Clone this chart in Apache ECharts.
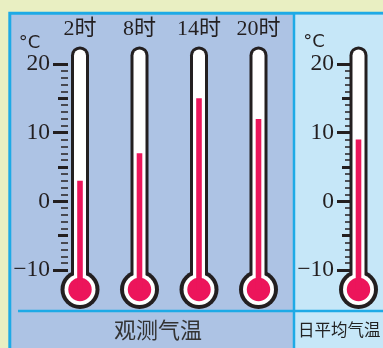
<!DOCTYPE html>
<html><head><meta charset="utf-8">
<script src="https://cdn.jsdelivr.net/npm/echarts@6/dist/echarts.min.js"></script>
<style>html,body{margin:0;padding:0;background:#e9efc2;}#c{width:383px;height:348px;}</style>
</head><body><div id="c"></div>
<script>
// ---- data ----
const hours = ['2时', '8时', '14时', '20时'];
const hourTemps = [3, 7, 15, 12];
const avgCategory = ['日平均气温'];
const avgTemps = [9];
const tempTicks = [-10, 0, 10, 20];
const panelTitles = ['观测气温', '日平均气温'];
const unitLabel = '°C';

// ---- styles ----
const INK = '#231f20';
const RED = '#ec155b';
const BLUE_LINE = '#1eaae6';
const LEFT_BG = '#adc3e4';
const RIGHT_BG = '#c6e7f8';
const SERIF = '"Liberation Serif","DejaVu Serif","Noto Sans CJK SC",serif';
const CJK = '"Noto Sans CJK SC",sans-serif';

const yMin = tempTicks[0], yMax = tempTicks[tempTicks.length - 1];

function fmt(v) { return v < 0 ? '\u2212' + Math.abs(v) : String(v); }

function majorAxis(grid, offset) {
  return {
    type: 'value', gridIndex: grid, position: 'left', offset: offset,
    min: yMin, max: yMax, interval: 10,
    axisLine: { show: false },
    splitLine: { show: false },
    axisTick: { show: true, inside: false, length: 15, lineStyle: { color: INK, width: 3 } },
    minorTick: { show: true, splitNumber: 10, length: 7, lineStyle: { color: '#2e2a2b', width: 1.6 } },
    axisLabel: { show: true, margin: 18, color: INK, fontFamily: SERIF, fontSize: 23.5, formatter: fmt }
  };
}
function mediumAxis(grid, offset) {
  return {
    type: 'value', gridIndex: grid, position: 'left', offset: offset,
    min: yMin, max: yMax, interval: 5,
    axisLine: { show: false }, splitLine: { show: false },
    axisTick: { show: true, inside: false, length: 10, lineStyle: { color: INK, width: 3 } },
    axisLabel: { show: false }
  };
}

function renderThermo(params, api) {
  const idx = api.value(0), v = api.value(1);
  const topPt = api.coord([idx, v]);
  const p20 = api.coord([idx, yMax]);
  const pm10 = api.coord([idx, yMin]);
  const cx = topPt[0];
  const tubeTop = p20[1] - 17.6;
  const bulbY = pm10[1] + 19.5;
  return {
    type: 'group',
    children: [
      { type: 'rect', shape: { x: cx - 9, y: tubeTop, width: 18, height: bulbY - tubeTop, r: [9, 9, 0, 0] }, style: { fill: INK } },
      { type: 'circle', shape: { cx: cx, cy: bulbY, r: 19.5 }, style: { fill: INK } },
      { type: 'rect', shape: { x: cx - 6, y: tubeTop + 3, width: 12, height: bulbY - tubeTop - 3, r: [6, 6, 0, 0] }, style: { fill: '#fff' } },
      { type: 'circle', shape: { cx: cx, cy: bulbY, r: 15.5 }, style: { fill: '#fff' } },
      { type: 'circle', shape: { cx: cx, cy: bulbY, r: 11.7 }, style: { fill: RED } },
      { type: 'rect', shape: { x: cx - 2.8, y: topPt[1], width: 5.6, height: bulbY - topPt[1] }, style: { fill: RED } }
    ]
  };
}

const chart = echarts.init(document.getElementById('c'), null, { renderer: 'canvas' });
chart.setOption({
  backgroundColor: '#e9efc2',
  animation: false,
  grid: [
    { left: 50.25, top: 64, width: 238, height: 206 },
    { left: 334, top: 64, width: 60, height: 206 }
  ],
  xAxis: [
    { type: 'category', gridIndex: 0, position: 'top', data: hours,
      axisLine: { show: false }, axisTick: { show: false }, splitLine: { show: false },
      axisLabel: { margin: 24, color: INK, fontFamily: SERIF, fontSize: 22 } },
    { type: 'category', gridIndex: 1, position: 'top', data: avgCategory,
      axisLine: { show: false }, axisTick: { show: false }, axisLabel: { show: false } }
  ],
  yAxis: [
    majorAxis(0, -17.75), mediumAxis(0, -17.75),
    majorAxis(1, -18), mediumAxis(1, -18)
  ],
  graphic: [
    { type: 'rect', z: -100, shape: { x: 9.8, y: 13.2, width: 420, height: 400 }, style: { fill: LEFT_BG, stroke: BLUE_LINE, lineWidth: 3 } },
    { type: 'rect', z: -99, shape: { x: 294, y: 14.7, width: 120, height: 400 }, style: { fill: RIGHT_BG } },
    { type: 'line', z: -98, shape: { x1: 294, y1: 14, x2: 294, y2: 348 }, style: { stroke: BLUE_LINE, lineWidth: 2.5 } },
    { type: 'line', z: -98, shape: { x1: 18, y1: 311, x2: 383, y2: 311 }, style: { stroke: BLUE_LINE, lineWidth: 2.5 } },
    { type: 'text', z: 50, x: 29.5, y: 43, style: { text: unitLabel, fill: INK, font: '18px "DejaVu Sans",sans-serif', align: 'center', verticalAlign: 'middle' } },
    { type: 'text', z: 50, x: 314, y: 42.5, style: { text: unitLabel, fill: INK, font: '18px "DejaVu Sans",sans-serif', align: 'center', verticalAlign: 'middle' } },
    { type: 'text', z: 50, x: 158, y: 330, style: { text: panelTitles[0], fill: '#333', font: '22px ' + CJK, align: 'center', verticalAlign: 'middle' } },
    { type: 'text', z: 50, x: 298, y: 330, style: { text: panelTitles[1], fill: '#222', font: '16.5px ' + CJK, align: 'left', verticalAlign: 'middle' } }
  ],
  series: [
    { type: 'custom', xAxisIndex: 0, yAxisIndex: 0, renderItem: renderThermo,
      data: hours.map((h, i) => [i, hourTemps[i]]) },
    { type: 'custom', xAxisIndex: 1, yAxisIndex: 2, renderItem: renderThermo,
      data: avgCategory.map((h, i) => [i, avgTemps[i]]) }
  ]
});
</script></body></html>
